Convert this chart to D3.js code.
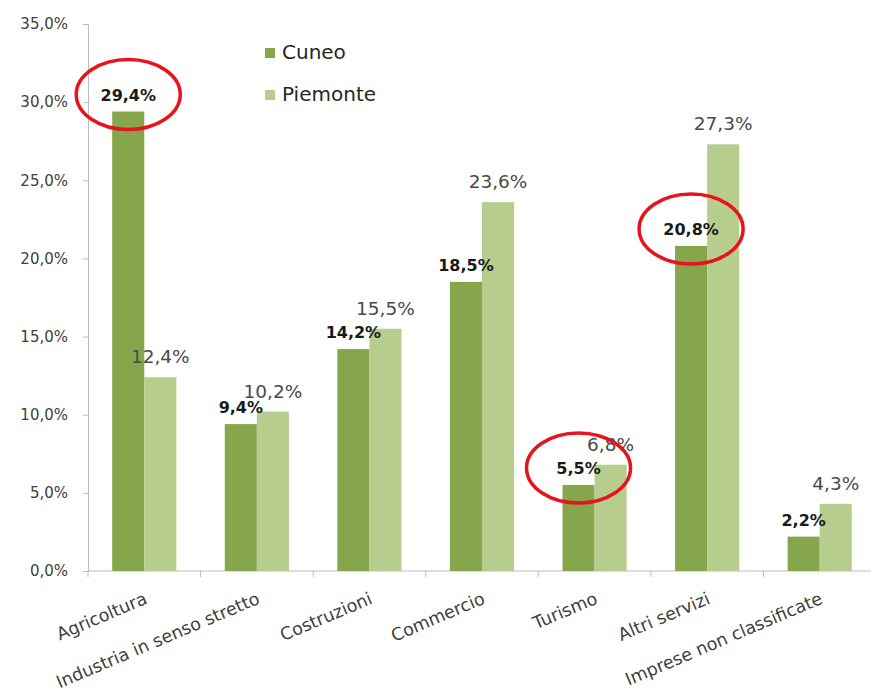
<!DOCTYPE html>
<html>
<head>
<meta charset="utf-8">
<script src="https://cdn.jsdelivr.net/npm/d3@7"></script>
<style>
  body { margin: 0; background: #fff; }
  text { font-family: 'DejaVu Sans', sans-serif; }
  .axis path, .axis line { stroke: #bdbdbd; }
  .axis text { fill: #404040; }
</style>
</head>
<body>
<div class="chart"></div>
<script>
var categories = [
  'Agricoltura',
  'Industria in senso stretto',
  'Costruzioni',
  'Commercio',
  'Turismo',
  'Altri servizi',
  'Imprese non classificate'
];
var series = ['Cuneo', 'Piemonte'];
var cuneo = [29.4, 9.4, 14.2, 18.5, 5.5, 20.8, 2.2];
var piemonte = [12.4, 10.2, 15.5, 23.6, 6.8, 27.3, 4.3];
var yTicks = [0, 5, 10, 15, 20, 25, 30, 35];
var highlighted = ['Agricoltura', 'Turismo', 'Altri servizi'];

var colors = {Cuneo: '#86a64b', Piemonte: '#b6cd8e'};

var W = 871, H = 693;
var margin = {top: 24, left: 88, bottom: 122};
var plotRight = 876;

var fmt = v => d3.format('.1f')(v).replace('.', ',') + '%';

var svg = d3.select('div.chart').append('svg')
    .attr('width', W)
    .attr('height', H);

var y = d3.scaleLinear()
    .domain([0, 35])
    .range([H - margin.bottom, margin.top]);

var x0 = d3.scaleBand()
    .domain(categories)
    .range([margin.left, plotRight])
    .paddingInner(0.43)
    .paddingOuter(0.215);

var x1 = d3.scaleBand()
    .domain(series)
    .range([0, x0.bandwidth()]);

var step = x0.step();

// y axis
svg.append('g')
    .attr('class', 'axis')
    .attr('transform', 'translate(' + margin.left + ',0)')
    .call(d3.axisLeft(y)
          .tickValues(yTicks)
          .tickFormat(fmt)
          .tickSize(5)
          .tickSizeOuter(0)
          .tickPadding(15))
    .selectAll('text')
      .attr('font-size', 15)
      .attr('font-family', "'DejaVu Sans', sans-serif");

// x axis line + ticks between categories
var xAxis = svg.append('g').attr('class', 'axis');
xAxis.append('line')
    .attr('x1', margin.left).attr('x2', plotRight)
    .attr('y1', y(0)).attr('y2', y(0));
xAxis.selectAll('line.tick')
  .data(d3.range(categories.length + 1)).enter().append('line')
    .attr('class', 'tick')
    .attr('x1', i => margin.left + i * step)
    .attr('x2', i => margin.left + i * step)
    .attr('y1', y(0)).attr('y2', y(0) + 6);

xAxis.selectAll('text.cat')
  .data(categories).enter().append('text')
    .attr('class', 'cat')
    .attr('text-anchor', 'end')
    .attr('font-size', 17.5)
    .attr('transform', d => 'translate(' + (x0(d) + x0.bandwidth() / 2 + 4) + ',' + (y(0) + 32) + ') rotate(-23)')
    .text(d => d);

var rows = categories.map((c, i) => ({cat: c, Cuneo: cuneo[i], Piemonte: piemonte[i]}));

var groups = svg.selectAll('g.cat')
  .data(rows).enter().append('g')
    .attr('class', 'cat')
    .attr('transform', d => 'translate(' + x0(d.cat) + ',0)');

groups.selectAll('rect')
  .data(d => series.map(s => ({key: s, value: d[s]})))
  .enter().append('rect')
    .attr('x', d => x1(d.key))
    .attr('width', x1.bandwidth())
    .attr('y', d => y(d.value))
    .attr('height', d => y(0) - y(d.value))
    .style('fill', d => colors[d.key]);

// value labels
groups.selectAll('text.val')
  .data(d => series.map(s => ({key: s, value: d[s]})))
  .enter().append('text')
    .attr('class', 'val')
    .attr('text-anchor', 'middle')
    .attr('x', d => x1(d.key) + x1.bandwidth() / 2)
    .attr('y', d => y(d.value) - (d.key === 'Cuneo' ? 11 : 14))
    .attr('font-size', d => d.key === 'Cuneo' ? 16 : 18.5)
    .attr('font-weight', d => d.key === 'Cuneo' ? 'bold' : 'normal')
    .attr('fill', d => d.key === 'Cuneo' ? '#1a1a1a' : '#4a4a4a')
    .text(d => fmt(d.value));

// red ellipses around highlighted Cuneo values
groups.filter(d => highlighted.indexOf(d.cat) >= 0)
  .append('ellipse')
    .attr('cx', x1('Cuneo') + x1.bandwidth() / 2)
    .attr('cy', d => y(d.Cuneo) - 17)
    .attr('rx', 52)
    .attr('ry', 35)
    .attr('fill', 'none')
    .attr('stroke', '#e8141b')
    .attr('stroke-width', 3.5);

// legend
var legend = svg.selectAll('g.legend')
  .data(series).enter().append('g')
    .attr('class', 'legend')
    .attr('transform', (d, i) => 'translate(265,' + (48 + i * 42) + ')');

legend.append('rect')
    .attr('width', 10).attr('height', 10)
    .style('fill', d => colors[d]);

legend.append('text')
    .attr('x', 17).attr('y', 11)
    .attr('font-size', 20)
    .attr('fill', '#262626')
    .text(d => d);
</script>
</body>
</html>
